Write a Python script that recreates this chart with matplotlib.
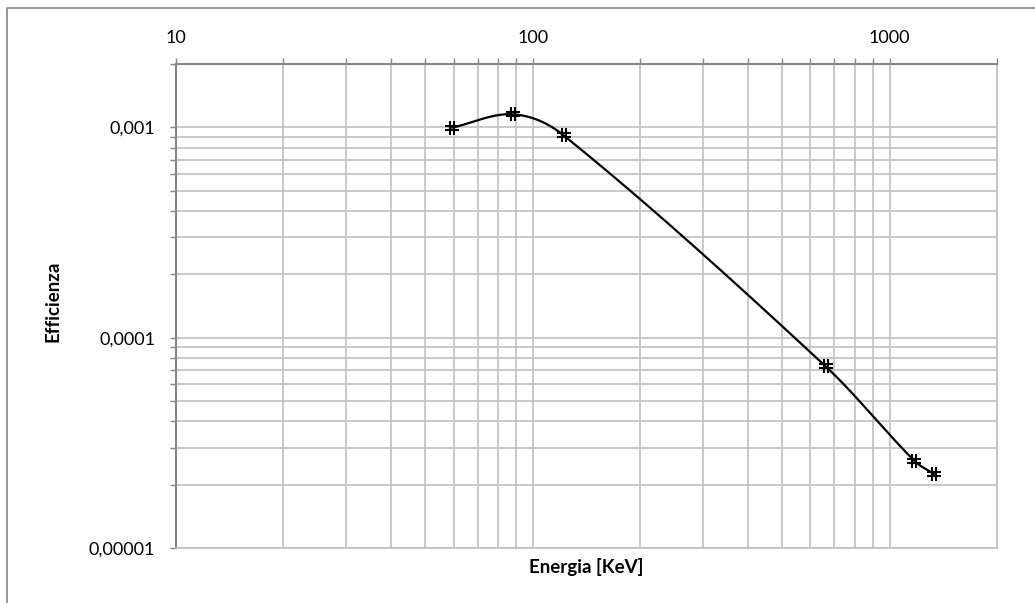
import matplotlib
matplotlib.use('Agg')
import numpy as np
import matplotlib.pyplot as plt
from matplotlib.path import Path
from matplotlib.ticker import LogLocator, FixedLocator, NullFormatter
from matplotlib.lines import Line2D

# energie dei picchi (keV) ed efficienza misurata
energia = [59.5, 88.0, 122.0, 662.0, 1173.0, 1332.0]
efficienza = [0.000997, 0.001153, 0.000916, 0.0000730, 0.0000260, 0.0000225]

etichette_x = ['10', '100', '1000']
etichette_y = ['0,00001', '0,0001', '0,001']

plt.rcParams['font.family'] = ['Lato', 'DejaVu Sans']

W, H = 1035, 603
fig = plt.figure(figsize=(W / 100, H / 100), dpi=100)
ax = fig.add_axes([176 / W, 1 - 548 / H, (997 - 176) / W, (548 - 64) / H])

# curva smussata: Hermite cubica in log-log con pendenze alle differenze centrate
lx = np.log10(energia)
ly = np.log10(efficienza)
n = len(lx)
m = np.zeros(n)
m[0] = (ly[1] - ly[0]) / (lx[1] - lx[0])
m[-1] = (ly[-1] - ly[-2]) / (lx[-1] - lx[-2])
for i in range(1, n - 1):
    m[i] = (ly[i + 1] - ly[i - 1]) / (lx[i + 1] - lx[i - 1])
cx, cy = [], []
for i in range(n - 1):
    h = lx[i + 1] - lx[i]
    t = np.linspace(0, 1, 50)
    h00 = 2 * t**3 - 3 * t**2 + 1
    h10 = t**3 - 2 * t**2 + t
    h01 = -2 * t**3 + 3 * t**2
    h11 = t**3 - t**2
    cx.append(lx[i] + t * h)
    cy.append(h00 * ly[i] + h10 * h * m[i] + h01 * ly[i + 1] + h11 * h * m[i + 1])
cx = np.concatenate(cx)
cy = np.concatenate(cy)
ax.plot(10 ** cx, 10 ** cy, color='black', lw=1.6, zorder=3)

# marcatore a forma di doppia croce
cancelletto = Path([(-1, -0.3), (1, -0.3), (-1, 0.3), (1, 0.3),
                    (-0.3, -1), (-0.3, 1), (0.3, -1), (0.3, 1)],
                   [Path.MOVETO, Path.LINETO] * 4)
ax.plot(energia, efficienza, ls='none', marker=cancelletto, ms=10,
        mec='black', mew=1.5, zorder=4)

ax.set_xscale('log')
ax.set_yscale('log')
ax.set_xlim(10, 2000)
ax.set_ylim(1e-5, 2e-3)

ax.xaxis.set_major_locator(FixedLocator([10, 100, 1000]))
ax.set_xticklabels(etichette_x)
ax.xaxis.set_minor_locator(LogLocator(base=10, subs=np.arange(2, 10)))
ax.xaxis.set_minor_formatter(NullFormatter())
ax.yaxis.set_major_locator(FixedLocator([1e-5, 1e-4, 1e-3]))
ax.set_yticklabels(etichette_y)
ax.yaxis.set_minor_locator(LogLocator(base=10, subs=np.arange(2, 10)))
ax.yaxis.set_minor_formatter(NullFormatter())

ax.xaxis.tick_top()
ax.tick_params(axis='both', which='both', direction='out', color='#868686', width=1,
               length=4, labelsize=13, labelcolor='black')
ax.tick_params(axis='x', which='major', pad=9)
ax.tick_params(axis='y', which='major', pad=11)

ax.grid(True, which='both', color='#c0c0c0', lw=1.2, zorder=0)

for lato in ['left', 'top']:
    ax.spines[lato].set_color('#868686')
    ax.spines[lato].set_linewidth(1.5)
for lato in ['right', 'bottom']:
    ax.spines[lato].set_color('#c0c0c0')
    ax.spines[lato].set_linewidth(1.2)

fig.text(53 / W, 1 - 301 / H, 'Efficienza', rotation=90, ha='center', va='center',
         fontsize=13.5, fontweight='bold')
fig.text(586 / W, 1 - 567 / H, 'Energia [KeV]', ha='center', va='center',
         fontsize=13.5, fontweight='bold')

# bordo dell'area del grafico (solo lati sinistro e superiore)
fig.add_artist(Line2D([7 / W, 7 / W, 1.0], [0.0, 1 - 8 / H, 1 - 8 / H],
                      transform=fig.transFigure, color='#868686', lw=1.2))

fig.savefig('out.png', dpi=100)
